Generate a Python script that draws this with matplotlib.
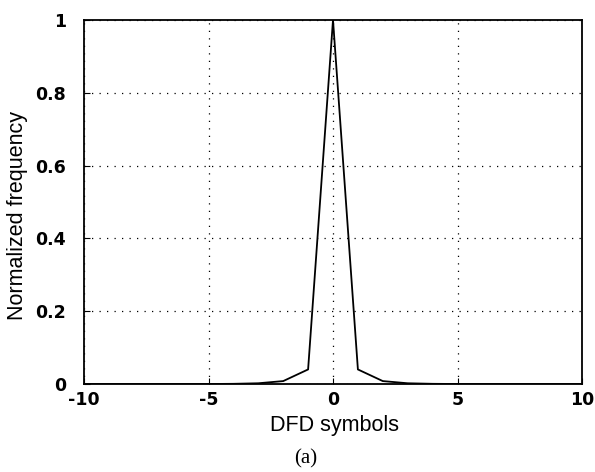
import matplotlib
matplotlib.use("Agg")
import matplotlib.pyplot as plt

x_vals = [-10, -9, -8, -7, -6, -5, -4, -3, -2, -1, 0, 1, 2, 3, 4, 5, 6, 7, 8, 9, 10]
freq = [0, 0, 0, 0, 0, 0, 0.0005, 0.002, 0.008, 0.04, 1.0, 0.04, 0.008, 0.002, 0.0005, 0, 0, 0, 0, 0, 0]
xticks = [-10, -5, 0, 5, 10]
xtick_labels = ["-10", "-5", "0", "5", "10"]
yticks = [0, 0.2, 0.4, 0.6, 0.8, 1.0]
ytick_labels = ["0", "0.2", "0.4", "0.6", "0.8", "1"]

fig = plt.figure(figsize=(5.95, 4.72), dpi=100)
ax = fig.add_axes([84/595, 88/472, (582-84)/595, (384-20)/472])
ax.plot(x_vals, freq, color="black", lw=1.3)
ax.set_xlim(-10, 10)
ax.set_ylim(0, 1)
ax.set_xticks(xticks)
ax.set_xticklabels(xtick_labels)
ax.set_yticks(yticks)
ax.set_yticklabels(ytick_labels)
for lab in ax.get_xticklabels() + ax.get_yticklabels():
    lab.set_fontweight("bold")
    lab.set_fontsize(12.5)
    lab.set_family("DejaVu Sans")
ax.tick_params(axis="y", direction="in", length=4, color="black", width=0.8, pad=13)
ax.tick_params(axis="x", direction="in", length=4, color="black", width=0.8, pad=5)
ax.grid(True, color="black", linestyle=(0, (1, 5)), lw=0.9)
for s in ax.spines.values():
    s.set_linewidth(1.3)
fig.text(335/595, 1 - 426/472, "DFD symbols", ha="center", va="center", fontsize=15.5, family="Liberation Sans")
fig.text(18/595, 1 - 216/472, "Normalized frequency", ha="center", va="center", rotation=90, fontsize=15.5, family="Liberation Sans")
fig.text(306/595, 1 - 459/472, "(a)", ha="center", va="center", fontsize=15, family="Liberation Serif")
fig.savefig("out.png", dpi=100)
